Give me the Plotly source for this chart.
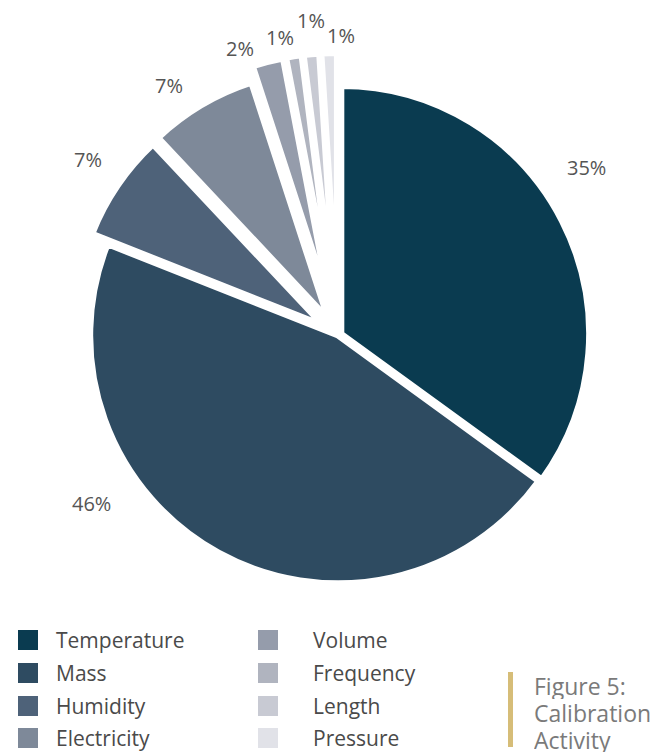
import math
import plotly.graph_objects as go

# Calibration activity share by measurement discipline
categories = ["Temperature", "Mass", "Humidity", "Electricity",
              "Volume", "Frequency", "Length", "Pressure"]
shares = [35, 46, 7, 7, 2, 1, 1, 1]
colors = ["#0a3b50", "#2e4b61", "#4e6279", "#7e8999",
          "#959cab", "#b0b4bf", "#c8cad3", "#e1e2e8"]
pulls = [0.015, 0.0, 0.075, 0.08, 0.14, 0.14, 0.14, 0.14]

# percentage label placement: angular nudge (deg) and distance (px) from centre
label_nudge = [-7, 27, 1, -3.5, -4.5, -2, 0.5, 2.4]
label_dist = [300, 298, 306, 302, 303, 304, 316, 300]

caption_lines = ["Figure 5:", "Calibration", "Activity"]

W, H = 658, 752
FONT = "Open Sans"
TEXT_GREY = "#555555"

# pie centre and outer size in pixels
CX, CY = 338, 335.5
HALF = 282.5

fig = go.Figure()
fig.add_trace(go.Pie(
    labels=categories,
    values=shares,
    sort=False,
    direction="clockwise",
    rotation=0,
    pull=pulls,
    marker=dict(colors=colors, line=dict(color="white", width=6)),
    textinfo="none",
    showlegend=False,
    domain=dict(x=[(CX - HALF) / W, (CX + HALF) / W],
                y=[1 - (CY + HALF) / H, 1 - (CY - HALF) / H]),
    hoverinfo="label+percent",
))

annotations = []
shapes = []

# percentage labels around the pie, positioned from each slice's mid angle
total = sum(shares)
cum = 0
for v, nudge, dist in zip(shares, label_nudge, label_dist):
    mid = (cum + v / 2) / total * 360 + nudge
    cum += v
    px = CX + dist * math.sin(math.radians(mid))
    py = CY - dist * math.cos(math.radians(mid))
    annotations.append(dict(
        x=px / W, y=1 - py / H, xref="paper", yref="paper",
        text=f"{v}%", showarrow=False, xanchor="center", yanchor="middle",
        font=dict(family=FONT, size=20, color=TEXT_GREY),
    ))

# Two-column legend drawn as swatches and labels
col_x = [18, 258]
text_x = [54, 311]
row_y = [640, 673, 706, 738]
sw = 20
for i, (name, col) in enumerate(zip(categories, colors)):
    c, r = divmod(i, 4)
    x0 = col_x[c]
    yc = row_y[r]
    shapes.append(dict(
        type="rect", xref="paper", yref="paper",
        x0=x0 / W, x1=(x0 + sw) / W,
        y0=1 - (yc + sw / 2) / H, y1=1 - (yc - sw / 2) / H,
        fillcolor=col, line=dict(width=0),
    ))
    annotations.append(dict(
        x=text_x[c] / W, y=1 - yc / H, xref="paper", yref="paper",
        text=name, showarrow=False, xanchor="left", yanchor="middle",
        font=dict(family=FONT, size=21, color="#4a4a4a"),
    ))

# Caption with a gold rule
shapes.append(dict(
    type="line", xref="paper", yref="paper",
    x0=510.5 / W, x1=510.5 / W, y0=1 - 747 / H, y1=1 - 672 / H,
    line=dict(color="#d6bd78", width=5),
))
for k, line in enumerate(caption_lines):
    annotations.append(dict(
        x=532 / W, y=1 - (686 + 27 * k) / H, xref="paper", yref="paper",
        text=line, showarrow=False, xanchor="left", yanchor="middle",
        height=26, valign="middle",
        font=dict(family=FONT, size=23, color="#7a7a7a"),
    ))

fig.update_layout(
    width=W, height=H,
    margin=dict(l=0, r=0, t=0, b=0, pad=0, autoexpand=False),
    paper_bgcolor="white",
    plot_bgcolor="white",
    shapes=shapes,
    annotations=annotations,
)

fig.write_html("out.html")
